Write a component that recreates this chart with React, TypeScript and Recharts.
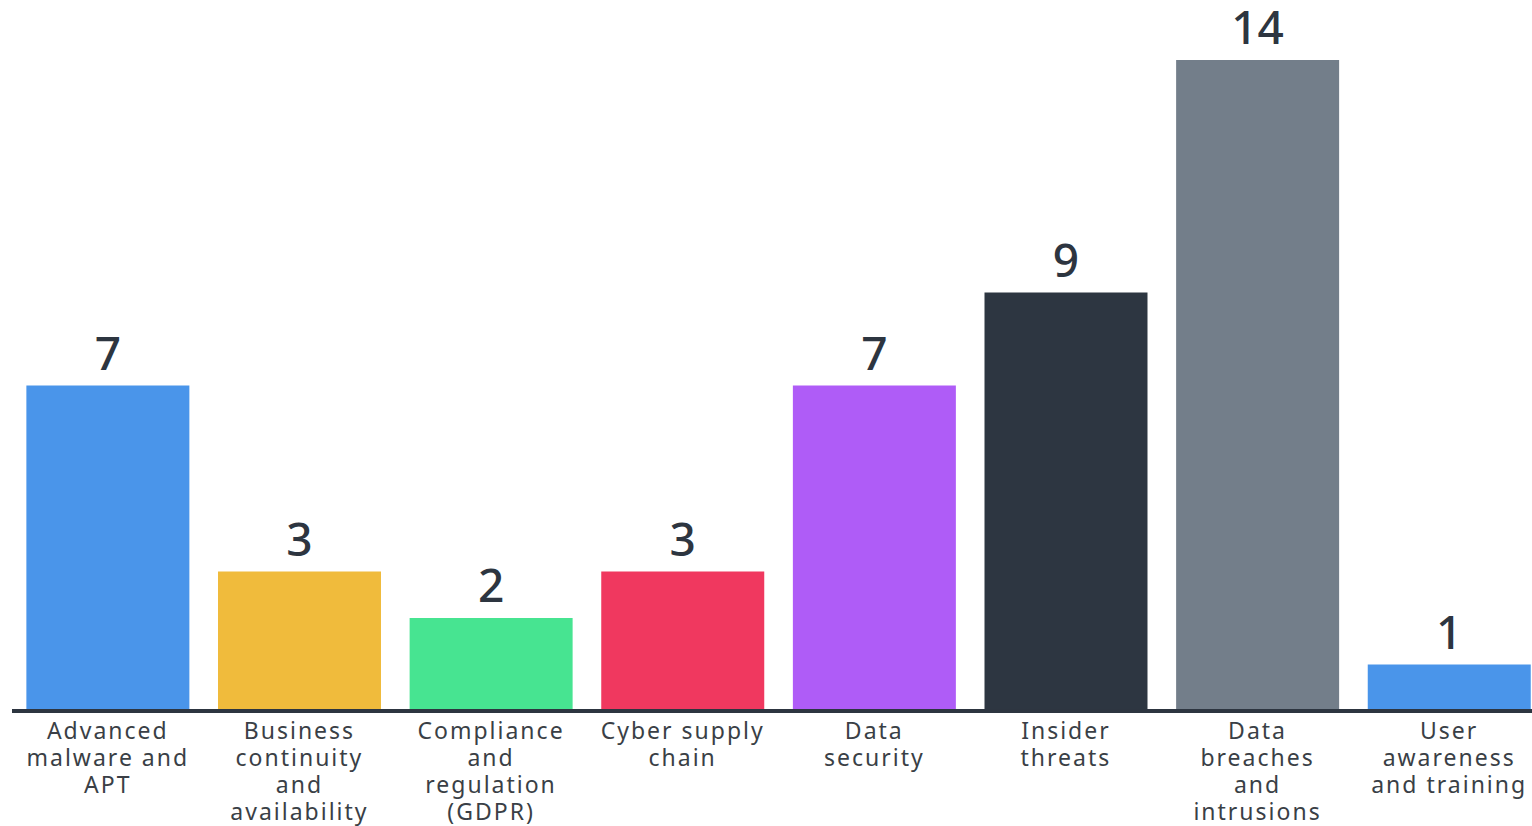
import { BarChart, Bar, XAxis, YAxis, Cell, LabelList } from "recharts";

const categories = [
  ["Advanced", "malware and", "APT"],
  ["Business", "continuity", "and", "availability"],
  ["Compliance", "and", "regulation", "(GDPR)"],
  ["Cyber supply", "chain"],
  ["Data", "security"],
  ["Insider", "threats"],
  ["Data", "breaches", "and", "intrusions"],
  ["User", "awareness", "and training"],
];
const counts = [7, 3, 2, 3, 7, 9, 14, 1];
const colors = ["#4a95ea", "#f0bb3c", "#47e491", "#f0385f", "#af5cf7", "#2d3641", "#737e8a", "#4a95ea"];

const data = categories.map((lines, i) => ({ name: lines.join(" "), value: counts[i] }));

const FONT = "'Noto Sans', sans-serif";
const INK = "#2d3540";

// multi-line category label, one <text> per line
function CategoryTick({ x, y, index }: any) {
  const lines = categories[index] || [];
  return (
    <g>
      {lines.map((l, i) => (
        <text key={i} x={x} y={y + 20 + i * 27} textAnchor="middle" fill="#3a3f46" fontFamily={FONT} fontSize={23} letterSpacing={2}>
          {l}
        </text>
      ))}
    </g>
  );
}

export default function App() {
  return (
    <div style={{ position: "absolute", left: 0, top: 0, width: 1532, height: 826, overflow: "hidden", background: "#fff" }}>
      <BarChart
        width={1560}
        height={826}
        data={data}
        margin={{ top: 60, right: 15, bottom: 0, left: 12 }}
        barCategoryGap="7.5%"
      >
        <XAxis
          dataKey="name"
          interval={0}
          tickLine={false}
          axisLine={{ stroke: INK, strokeWidth: 4 }}
          tick={<CategoryTick />}
          height={115}
        />
        <YAxis hide domain={[0, 14]} />
        <Bar dataKey="value" isAnimationActive={false}>
          {data.map((d, i) => (
            <Cell key={d.name} fill={colors[i]} />
          ))}
          <LabelList dataKey="value" position="top" offset={16} fill={INK} fontFamily={FONT} fontSize={46} fontWeight={500} />
        </Bar>
      </BarChart>
    </div>
  );
}
